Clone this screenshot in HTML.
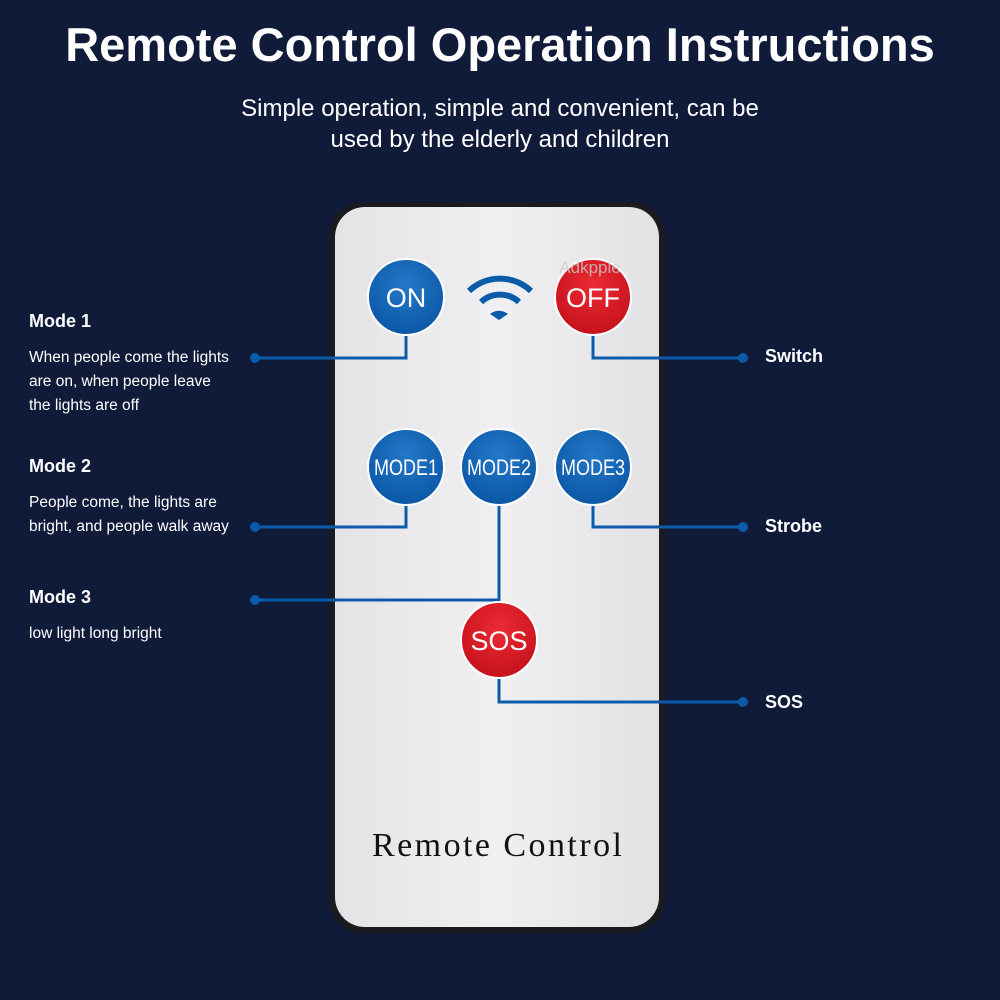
<!DOCTYPE html>
<html><head><meta charset="utf-8"><style>
body{margin:0;width:1000px;height:1000px;background:#101b3a;font-family:"Liberation Sans",sans-serif;color:#fff;position:relative;overflow:hidden}
.t{position:absolute;left:0;width:1000px;text-align:center}
.l{position:absolute;font-size:15.5px;line-height:24px}
.h{position:absolute;font-weight:bold;font-size:18px}
</style></head><body>
<div class="t" style="top:17px;font-size:47px;font-weight:bold">Remote Control Operation Instructions</div>
<div class="t" style="top:93px;font-size:24px;line-height:31px">Simple operation, simple and convenient, can be<br>used by the elderly and children</div>
<svg width="1000" height="1000" style="position:absolute;left:0;top:0">
<defs>
<radialGradient id="b" cx="50%" cy="35%" r="65%"><stop offset="0" stop-color="#2478c8"/><stop offset="1" stop-color="#0b57a6"/></radialGradient>
<radialGradient id="r" cx="50%" cy="35%" r="65%"><stop offset="0" stop-color="#ec2a33"/><stop offset="1" stop-color="#c5121c"/></radialGradient>
<linearGradient id="w" x1="0" x2="1"><stop offset="0" stop-color="#e4e4e6"/><stop offset=".5" stop-color="#f0f0f2"/><stop offset="1" stop-color="#e2e2e4"/></linearGradient>
</defs>
<rect x="329" y="202" width="336" height="731" rx="34" fill="#1b1b1f"/>
<rect x="335" y="207" width="324" height="720" rx="30" fill="url(#w)"/>
<g fill="none" stroke="#0b5bab" stroke-width="3">
<polyline points="406,330 406,358 255,358"/>
<polyline points="593,330 593,358 743,358"/>
<polyline points="406,500 406,527 255,527"/>
<polyline points="593,500 593,527 743,527"/>
<polyline points="499,500 499,600 255,600"/>
<polyline points="499,672 499,702 743,702"/>
</g>
<g fill="#0b5bab"><circle cx="255" cy="358" r="5"/><circle cx="255" cy="527" r="5"/><circle cx="255" cy="600" r="5"/><circle cx="743" cy="358" r="5"/><circle cx="743" cy="527" r="5"/><circle cx="743" cy="702" r="5"/></g>
<g stroke="#fff" stroke-width="2">
<circle cx="406" cy="297" r="38" fill="url(#b)"/>
<circle cx="593" cy="297" r="38" fill="url(#r)"/>
<circle cx="406" cy="467" r="38" fill="url(#b)"/>
<circle cx="499" cy="467" r="38" fill="url(#b)"/>
<circle cx="593" cy="467" r="38" fill="url(#b)"/>
<circle cx="499" cy="640" r="38" fill="url(#r)"/>
</g>
<g fill="none" stroke="#0b5bab" stroke-width="6" stroke-linecap="butt">
<path d="M469,291 A45,45 0 0 1 531,291"/>
<path d="M481,302 A28,28 0 0 1 519,302"/>
</g>
<path d="M490,314 A14,14 0 0 1 508,314 L499,320Z" fill="#0b5bab"/>
<text x="590" y="273" font-size="17" fill="#ccc" text-anchor="middle" opacity=".8">Adkpple</text>
<g fill="#fff" font-size="27" text-anchor="middle" font-family="Liberation Sans,sans-serif">
<text x="406" y="307">ON</text><text x="593" y="307">OFF</text>
<text x="499" y="650">SOS</text>
</g>
<g fill="#fff" font-size="22" text-anchor="middle" font-family="Liberation Sans,sans-serif">
<text x="406" y="475" textLength="64" lengthAdjust="spacingAndGlyphs">MODE1</text>
<text x="499" y="475" textLength="64" lengthAdjust="spacingAndGlyphs">MODE2</text>
<text x="593" y="475" textLength="64" lengthAdjust="spacingAndGlyphs">MODE3</text>
</g>
<text x="372" y="856" font-size="34" fill="#111" font-family="Liberation Serif,serif" textLength="250" lengthAdjust="spacing">Remote Control</text>
</svg>
<div class="h" style="left:29px;top:311px">Mode 1</div>
<div class="l" style="left:29px;top:346px">When people come the lights<br>are on, when people leave<br>the lights are off</div>
<div class="h" style="left:29px;top:456px">Mode 2</div>
<div class="l" style="left:29px;top:491px">People come, the lights are<br>bright, and people walk away</div>
<div class="h" style="left:29px;top:587px">Mode 3</div>
<div class="l" style="left:29px;top:622px">low light long bright</div>
<div class="h" style="left:765px;top:346px">Switch</div>
<div class="h" style="left:765px;top:516px">Strobe</div>
<div class="h" style="left:765px;top:692px">SOS</div>
</body></html>
